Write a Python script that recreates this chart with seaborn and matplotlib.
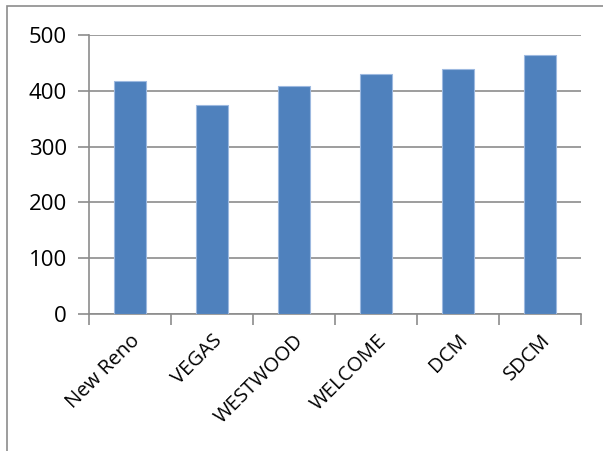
import numpy as np
import matplotlib
matplotlib.use("Agg")
import matplotlib.pyplot as plt
import pandas as pd
import seaborn as sns
from matplotlib.patches import Rectangle

protocols = ["New Reno", "VEGAS", "WESTWOOD", "WELCOME", "DCM", "SDCM"]
values = [418, 374, 408, 431, 439, 464]

sns.set_theme(style="white")
plt.rcParams['font.family'] = ['Open Sans', 'DejaVu Sans']

df = pd.DataFrame({"protocol": protocols, "value": values})

fig = plt.figure(figsize=(6.03, 4.51), dpi=100)
ax = fig.add_axes([89 / 603, 1 - 314 / 451, (581 - 89) / 603, (314 - 35) / 451])

sns.barplot(data=df, x="protocol", y="value", color="#4F81BD", saturation=1,
            width=0.4, edgecolor="#9DB9E0", linewidth=0.8, ax=ax, zorder=3)

grid_c = "#8C8C8C"
ax.set_ylim(0, 500)
ax.set_xlim(-0.5, len(protocols) - 0.5)
ax.set_yticks(np.arange(0, 501, 100))
ax.yaxis.grid(True, color=grid_c, linewidth=1.2, zorder=0)
ax.set_axisbelow(True)

# excel style ticks between categories
ax.set_xticks(np.arange(-0.5, len(protocols), 1.0), minor=False)
ax.set_xticklabels([])
ax.set_xticks(np.arange(len(protocols)), minor=True)
ax.set_xticklabels(protocols, minor=True, rotation=45, ha="right",
                   rotation_mode="anchor", fontsize=14.5, color="black")
ax.tick_params(axis="x", which="minor", bottom=True, length=0, pad=12)
ax.tick_params(axis="x", which="major", bottom=True, length=8, width=1.2,
               color=grid_c, direction="out")
ax.tick_params(axis="y", left=True, length=8, width=1.2, color=grid_c,
               direction="out", labelsize=16, labelcolor="black", pad=8)
ax.set_xlabel("")
ax.set_ylabel("")

for s in ["top", "right"]:
    ax.spines[s].set_visible(False)
for s in ["left", "bottom"]:
    ax.spines[s].set_color(grid_c)
    ax.spines[s].set_linewidth(1.2)

# outer chart border
fig.patches.append(Rectangle((7 / 603, -0.05), 1.2, 1 - 6 / 451 + 0.05,
                             transform=fig.transFigure, fill=False,
                             edgecolor="#8C8C8C", linewidth=1.2))

fig.savefig("out.png", dpi=100)
